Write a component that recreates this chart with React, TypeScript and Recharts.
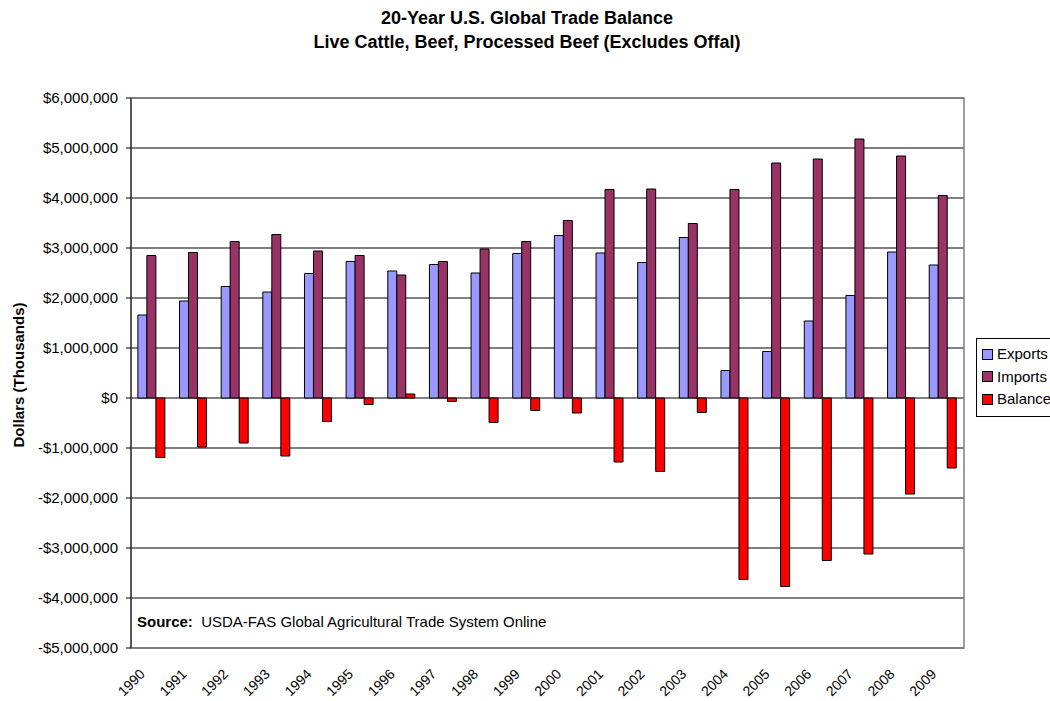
import React from "react";
import {
  BarChart,
  Bar,
  XAxis,
  YAxis,
  CartesianGrid,
  Legend,
  ReferenceArea,
  Label,
} from "recharts";

// values in thousands of dollars
const years = [
  "1990", "1991", "1992", "1993", "1994", "1995", "1996", "1997", "1998", "1999",
  "2000", "2001", "2002", "2003", "2004", "2005", "2006", "2007", "2008", "2009",
];
const exportsK = [
  1660000, 1940000, 2230000, 2120000, 2490000, 2730000, 2540000, 2670000, 2500000, 2890000,
  3250000, 2900000, 2710000, 3210000, 550000, 930000, 1540000, 2050000, 2920000, 2660000,
];
const importsK = [
  2850000, 2910000, 3130000, 3270000, 2940000, 2850000, 2460000, 2730000, 2980000, 3130000,
  3550000, 4170000, 4180000, 3490000, 4170000, 4700000, 4780000, 5180000, 4840000, 4050000,
];
const balanceK = [
  -1190000, -980000, -900000, -1160000, -470000, -130000, 80000, -70000, -490000, -250000,
  -300000, -1280000, -1470000, -290000, -3630000, -3770000, -3250000, -3120000, -1920000, -1400000,
];
const yTicks = [6000000, 5000000, 4000000, 3000000, 2000000, 1000000, 0, -1000000, -2000000, -3000000, -4000000, -5000000];

const seriesInfo = [
  { key: "exports", label: "Exports", color: "#9999FF" },
  { key: "imports", label: "Imports", color: "#993366" },
  { key: "balance", label: "Balance", color: "#FF0000" },
];

const rows = years.map((y, i) => ({
  year: y,
  exports: exportsK[i],
  imports: importsK[i],
  balance: balanceK[i],
}));

const FONT = "'Liberation Sans', Arial, sans-serif";

function money(v: number): string {
  const s = Math.abs(v).toLocaleString("en-US");
  return v < 0 ? `-$${s}` : `$${s}`;
}

function YearTick(props: any) {
  const { x, y, payload } = props;
  const tx = x - 6;
  const ty = y + 19;
  return (
    <text
      x={tx}
      y={ty}
      transform={`rotate(-45 ${tx} ${ty})`}
      textAnchor="end"
      fontSize={14}
      fontFamily={FONT}
      fill="#000"
    >
      {payload.value}
    </text>
  );
}

function LegendBox() {
  return (
    <div
      style={{
        border: "1px solid #000",
        background: "#fff",
        padding: "4px 6px 5px 5px",
        fontFamily: FONT,
        fontSize: 15,
        lineHeight: "22.5px",
        width: 90,
      }}
    >
      {seriesInfo.map((s) => (
        <div key={s.key} style={{ display: "flex", alignItems: "center", whiteSpace: "nowrap" }}>
          <span
            style={{
              display: "inline-block",
              width: 9,
              height: 9,
              background: s.color,
              border: "1px solid #000",
              marginRight: 4,
            }}
          />
          {s.label}
        </div>
      ))}
    </div>
  );
}

export default function App() {
  return (
    <div
      style={{
        position: "absolute",
        left: 0,
        top: 0,
        width: 1050,
        height: 701,
        background: "#fff",
        overflow: "hidden",
        fontFamily: FONT,
      }}
    >
      <div
        style={{
          position: "absolute",
          left: 0,
          top: 6,
          width: 1054,
          textAlign: "center",
          fontWeight: "bold",
          fontSize: 18,
          lineHeight: "24px",
          color: "#000",
        }}
      >
        <div>20-Year U.S. Global Trade Balance</div>
        <div>Live Cattle, Beef, Processed Beef (Excludes Offal)</div>
      </div>
      <BarChart
        width={1050}
        height={701}
        data={rows}
        margin={{ top: 98, right: 86, bottom: 0, left: 0 }}
        barCategoryGap="16.5%"
        barGap={0}
      >
        <CartesianGrid vertical={false} stroke="#000" />
        <ReferenceArea y1={6000000} y2={-5000000} fill="none" stroke="#808080" strokeWidth={1.5} />
        <XAxis
          dataKey="year"
          height={53}
          interval={0}
          axisLine={false}
          tickLine={false}
          tick={<YearTick />}
        />
        <YAxis
          width={131}
          domain={[-5000000, 6000000]}
          ticks={yTicks}
          tickFormatter={money}
          tickSize={5}
          tickMargin={8}
          axisLine={{ stroke: "#404040", strokeWidth: 1.5 }}
          tickLine={{ stroke: "#000" }}
          tick={{ fill: "#000", fontSize: 15, fontFamily: FONT }}
        >
          <Label
            content={(p: any) => {
              const vb = p.viewBox || {};
              const cx = 18;
              const cy = (vb.y ?? 98) + (vb.height ?? 550) / 2 + 2;
              return (
                <text
                  x={cx}
                  y={cy}
                  transform={`rotate(-90 ${cx} ${cy})`}
                  textAnchor="middle"
                  dominantBaseline="central"
                  fontWeight="bold"
                  fontSize={15}
                  fontFamily={FONT}
                  fill="#000"
                >
                  Dollars (Thousands)
                </text>
              );
            }}
          />
        </YAxis>
        <Legend
          layout="horizontal"
          verticalAlign="middle"
          align="center"
          wrapperStyle={{ position: "absolute", left: 976, top: 338, width: "auto" }}
          content={() => <LegendBox />}
        />
        {seriesInfo.map((s) => (
          <Bar
            key={s.key}
            dataKey={s.key}
            name={s.label}
            fill={s.color}
            stroke="#000"
            strokeWidth={1}
            isAnimationActive={false}
          />
        ))}
      </BarChart>
      <div
        style={{
          position: "absolute",
          left: 137,
          top: 613,
          fontSize: 15,
          lineHeight: "18px",
          color: "#000",
          whiteSpace: "nowrap",
        }}
      >
        <b>Source:</b>&nbsp;&nbsp;USDA-FAS Global Agricultural Trade System Online
      </div>
    </div>
  );
}
